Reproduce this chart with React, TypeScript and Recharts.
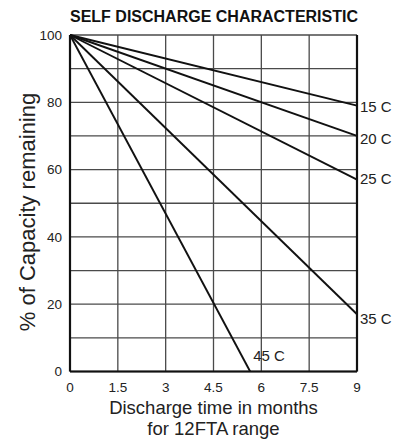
import { LineChart, Line, XAxis, YAxis, CartesianGrid, ReferenceLine } from "recharts";

// capacity remaining (%) vs storage time (months)
const months = [0, 9];
const cap15 = [100, 79];
const cap20 = [100, 70];
const cap25 = [100, 57];
const cap35 = [100, 17];
const months45 = [0, 5.65];
const cap45 = [100, 0];

const xTicks = [0, 1.5, 3, 4.5, 6, 7.5, 9];
const yTicks = [0, 10, 20, 30, 40, 50, 60, 70, 80, 90, 100];

const series = [
  { name: "15 C", x: months, y: cap15, dy: 1 },
  { name: "20 C", x: months, y: cap20, dy: 3 },
  { name: "25 C", x: months, y: cap25, dy: -1 },
  { name: "35 C", x: months, y: cap35, dy: 4 },
  { name: "45 C", x: months45, y: cap45, dy: 0 },
];

const FONT = "'Liberation Sans', Arial, Helvetica, sans-serif";

const toPoints = (xs: number[], ys: number[]) => xs.map((x, i) => ({ x, y: ys[i] }));

export default function App() {
  return (
    <div style={{ position: "absolute", left: 0, top: 0, width: 408, height: 439, background: "#fff" }}>
      <LineChart
        width={408}
        height={439}
        margin={{ top: 35, right: 51, left: 0, bottom: 0 }}
        style={{ fontFamily: FONT }}
      >
        <text x={214} y={22} textAnchor="middle" fontSize={16} fontWeight="bold" fill="#111" fontFamily={FONT}>
          SELF DISCHARGE CHARACTERISTIC
        </text>
        <CartesianGrid stroke="#4a4a4a" strokeWidth={1.3} />
        <XAxis
          type="number"
          dataKey="x"
          domain={[0, 9]}
          ticks={xTicks}
          height={67.5}
          tickLine={false}
          tickMargin={5}
          axisLine={{ stroke: "#111", strokeWidth: 2.2 }}
          tick={{ fill: "#222", fontSize: 13.5 }}
          allowDuplicatedCategory={false}
          label={{
            content: ({ viewBox }: any) => {
              const cx = viewBox.x + viewBox.width / 2;
              return (
                <g fontFamily={FONT} fill="#222" fontSize={18.5}>
                  <text x={cx} y={414} textAnchor="middle">Discharge time in months</text>
                  <text x={cx} y={435} textAnchor="middle">for 12FTA range</text>
                </g>
              );
            },
          }}
        />
        <YAxis
          type="number"
          domain={[0, 100]}
          ticks={yTicks}
          width={70}
          tickLine={false}
          axisLine={{ stroke: "#111", strokeWidth: 2.2 }}
          tick={{ fill: "#222", fontSize: 13.5 }}
          tickFormatter={(v: number) => (v % 20 === 0 ? String(v) : "")}
          label={{
            content: () => (
              <text
                x={35}
                y={212}
                transform="rotate(-90 35 212)"
                textAnchor="middle"
                fontSize={22}
                fill="#222"
                fontFamily={FONT}
              >
                % of Capacity remaining
              </text>
            ),
          }}
        />
        <ReferenceLine x={9} stroke="#111" strokeWidth={2.2} />
        {series.map((s) => (
          <Line
            key={s.name}
            data={toPoints(s.x, s.y)}
            dataKey="y"
            name={s.name}
            stroke="#111"
            strokeWidth={1.9}
            dot={false}
            isAnimationActive={false}
            label={(p: any) =>
              p.index === s.x.length - 1 ? (
                <text
                  key={s.name}
                  x={p.x + 3}
                  y={s.name === "45 C" ? p.y - 16 : p.y + s.dy}
                  dominantBaseline="central"
                  fontSize={15}
                  fill="#222"
                  fontFamily={FONT}
                >
                  {s.name}
                </text>
              ) : (
                <g key={`${s.name}-${p.index}`} />
              )
            }
          />
        ))}
      </LineChart>
    </div>
  );
}
